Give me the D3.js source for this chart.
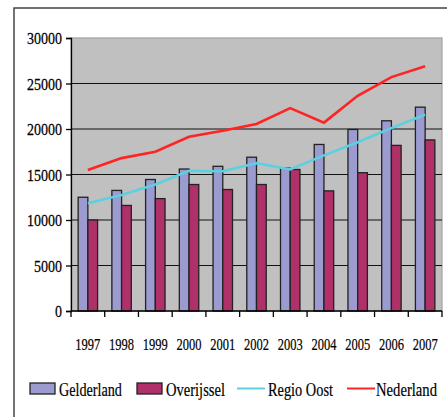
<!DOCTYPE html>
<html><head><meta charset="utf-8">
<script src="https://cdn.jsdelivr.net/npm/d3@7"></script>
<style>html,body{margin:0;padding:0;background:#fff;}svg{display:block;}</style>
</head><body>
<svg id="c" width="447" height="417"></svg>
<script>
const years = ["1997","1998","1999","2000","2001","2002","2003","2004","2005","2006","2007"];
const gelderland = [12500,13250,14450,15600,15900,16900,15700,18300,19950,20900,22400];
const overijssel = [10000,11600,12350,13900,13350,13900,15550,13200,15200,18200,18800];
const regioOost = [11850,12750,13900,15400,15350,16250,15550,17100,18550,20100,21600];
const nederland = [15500,16800,17500,19150,19800,20550,22300,20700,23650,25700,26900];
const yTicks = [0,5000,10000,15000,20000,25000,30000];
const seriesNames = ["Gelderland","Overijssel","Regio Oost","Nederland"];

const FONT = "'Liberation Serif', 'Times New Roman', Times, serif";
const svg = d3.select("#c");
const L = 71, R = 442, T = 38, B = 311;
const x = d3.scaleBand().domain(years).range([L, R]).paddingInner(0).paddingOuter(0);
const x1 = d3.scaleBand().domain(["G","O"]).range([0, x.bandwidth()]).paddingInner(0).paddingOuter(0.735);
const y = d3.scaleLinear().domain([0, 30000]).range([B, T]);

// squeeze a text horizontally to a target width using a transform
function squeeze(sel, ax, ay, width, anchor) {
  sel.each(function(d) {
    const t = d3.select(this);
    const w = this.getComputedTextLength();
    const tw = typeof width === "function" ? width(d) : width;
    const X = typeof ax === "function" ? ax(d) : ax;
    const Y = typeof ay === "function" ? ay(d) : ay;
    t.attr("x", 0).attr("y", 0).attr("text-anchor", anchor)
     .attr("transform", `translate(${X},${Y}) scale(${tw / w},1)`);
  });
}

// outer frame
svg.append("path").attr("d", `M14,417 L14,8 L447,8`).attr("fill","none").attr("stroke","#444").attr("stroke-width",1.5);

// plot area
svg.append("rect").attr("x", L).attr("y", T).attr("width", R - L).attr("height", B - T)
  .attr("fill", "#c0c0c0").attr("stroke", "#a0a0a0").attr("stroke-width", 1.2);

// gridlines
svg.append("g").selectAll("line").data(yTicks.filter(d => d > 0 && d < 30000)).join("line")
  .attr("x1", L).attr("x2", R).attr("y1", d => y(d)).attr("y2", d => y(d))
  .attr("stroke", "#111").attr("stroke-width", 1.2);

// bars
const bars = svg.append("g");
years.forEach((yr, i) => {
  [["G", gelderland[i], "#9b9bd0"], ["O", overijssel[i], "#b0306a"]].forEach(([k, v, c]) => {
    bars.append("rect").attr("x", x(yr) + x1(k)).attr("y", y(v))
      .attr("width", x1.bandwidth()).attr("height", y(0) - y(v))
      .attr("fill", c).attr("stroke", "#222").attr("stroke-width", 1.3);
  });
});

// lines
const line = d3.line().x((d, i) => x(years[i]) + x.bandwidth() / 2).y(d => y(d));
svg.append("path").datum(regioOost).attr("d", line).attr("fill", "none").attr("stroke", "#5ccfe0").attr("stroke-width", 2.6);
svg.append("path").datum(nederland).attr("d", line).attr("fill", "none").attr("stroke", "#ff2424").attr("stroke-width", 2.6);

// axes
const yAxis = d3.axisLeft(y).tickValues(yTicks).tickSize(5).tickPadding(4).tickFormat(d3.format("d"));
const gy = svg.append("g").attr("transform", `translate(${L},0)`).call(yAxis).attr("font-family", null).attr("font-size", null);
gy.select(".domain").attr("stroke", "#000").attr("stroke-width", 1.3);
gy.selectAll(".tick line").attr("stroke", "#000").attr("stroke-width", 1.3);
gy.selectAll(".tick text").style("font-family", FONT).style("font-size", "17.5px").attr("fill", "#000")
  .attr("stroke", "#000").attr("stroke-width", 0.25).attr("dy", "0.34em")
  .call(squeeze, -9, 0, d => String(d).length * 7, "end");

const gx = svg.append("g").attr("transform", `translate(0,${B})`);
gx.append("line").attr("x1", L).attr("x2", R).attr("stroke", "#000").attr("stroke-width", 1.3);
const bounds = years.map(yr => x(yr)).concat([R]);
gx.selectAll("line.t").data(bounds).join("line").attr("class","t")
  .attr("x1", d => d).attr("x2", d => d).attr("y1", 0).attr("y2", 6).attr("stroke", "#000").attr("stroke-width", 1.3);
gx.selectAll("text").data(years).join("text")
  .style("font-family", FONT).style("font-size", "16.5px")
  .attr("stroke", "#000").attr("stroke-width", 0.2).text(d => d)
  .call(squeeze, d => x(d) + x.bandwidth() / 2, 38.5, 25, "middle");

// legend
const lg = svg.append("g");
const ly = 388.5;
const legendItems = [
  {name: seriesNames[0], type: "rect", color: "#9b9bd0", x: 30, tx: 59, tw: 63},
  {name: seriesNames[1], type: "rect", color: "#b0306a", x: 137, tx: 166, tw: 59},
  {name: seriesNames[2], type: "line", color: "#5ccfe0", x: 237, tx: 268, tw: 65},
  {name: seriesNames[3], type: "line", color: "#ff2424", x: 347, tx: 376, tw: 61}
];
legendItems.forEach(it => {
  if (it.type === "rect") {
    lg.append("rect").attr("x", it.x).attr("y", ly - 5.5).attr("width", 25).attr("height", 11)
      .attr("fill", it.color).attr("stroke", "#222").attr("stroke-width", 1.3);
  } else {
    lg.append("line").attr("x1", it.x).attr("x2", it.x + 28).attr("y1", ly).attr("y2", ly)
      .attr("stroke", it.color).attr("stroke-width", 2);
  }
  lg.append("text").style("font-family", FONT).style("font-size", "19px")
    .attr("stroke", "#000").attr("stroke-width", 0.2).text(it.name)
    .call(squeeze, it.tx, ly + 7, it.tw, "start");
});
</script>
</body></html>
